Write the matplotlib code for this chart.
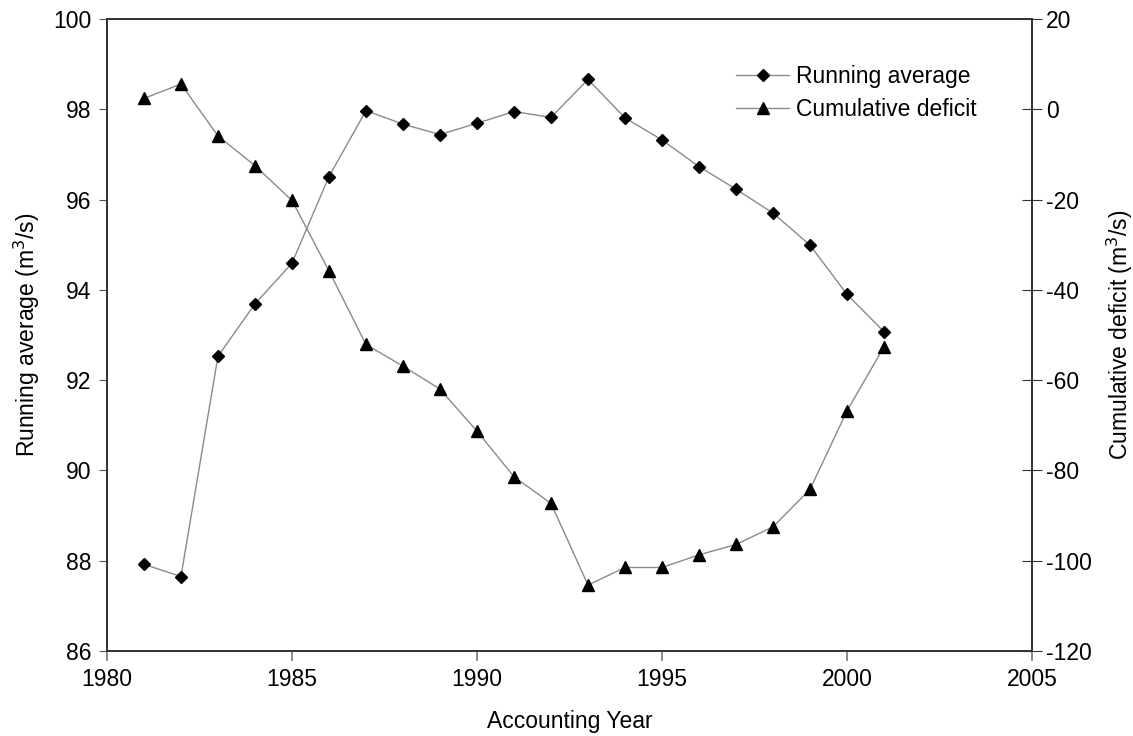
import matplotlib.pyplot as plt

plt.rcParams["font.family"] = ["Liberation Sans", "DejaVu Sans"]
plt.rcParams["axes.unicode_minus"] = False

years = list(range(1981, 2002))
running_avg = [87.92, 87.65, 92.53, 93.69, 94.59, 96.51, 97.97, 97.67, 97.44, 97.69,
               97.95, 97.82, 98.66, 97.81, 97.32, 96.73, 96.23, 95.70, 94.99, 93.90, 93.07]
cum_deficit = [2.4, 5.6, -5.9, -12.5, -20.2, -35.8, -52.1, -56.9, -62.0, -71.3,
               -81.4, -87.3, -105.4, -101.5, -101.5, -98.7, -96.4, -92.5, -84.2, -66.8, -52.6]

line_col = "#8a8a8a"
fs = 16.5

fig = plt.figure(figsize=(11.33, 7.36), dpi=100)
ax = fig.add_axes([0.0944, 0.1155, 0.8165, 0.8587])
ax2 = ax.twinx()

l1, = ax.plot(years, running_avg, color=line_col, lw=1.0, marker="D", ms=6.5,
              mfc="black", mec="black", label="Running average")
l2, = ax2.plot(years, cum_deficit, color=line_col, lw=1.0, marker="^", ms=8,
               mfc="black", mec="black", label="Cumulative deficit")

ax.set_xlim(1980, 2005)
ax.set_xticks(range(1980, 2006, 5))
ax.set_ylim(86, 100)
ax.set_yticks(range(86, 101, 2))
ax2.set_ylim(-120, 20)
ax2.set_yticks(range(-120, 21, 20))

ax.tick_params(axis="x", direction="out", length=7, width=1.2, color="#777777",
               labelsize=fs, pad=5)
ax.tick_params(axis="y", direction="out", length=6, width=0.8, color="#555555",
               labelsize=fs, pad=5)
ax2.tick_params(axis="y", direction="inout", length=14, width=0.8, color="#333333",
                labelsize=fs, pad=3)

for a in (ax, ax2):
    for s in a.spines.values():
        s.set_color("#333333")
        s.set_linewidth(1.3)

ax.set_xlabel("Accounting Year", fontsize=fs, labelpad=14)
ax.set_ylabel("Running average (m$^3$/s)", fontsize=fs, labelpad=8)
ax2.set_ylabel("Cumulative deficit (m$^3$/s)", fontsize=fs, labelpad=9)

ax2.legend([l1, l2], ["Running average", "Cumulative deficit"], loc="upper left",
           bbox_to_anchor=(0.658, 0.96), frameon=False, fontsize=fs,
           handlelength=2.3, handletextpad=0.3, labelspacing=0.45)

fig.savefig("out.png", dpi=100)
